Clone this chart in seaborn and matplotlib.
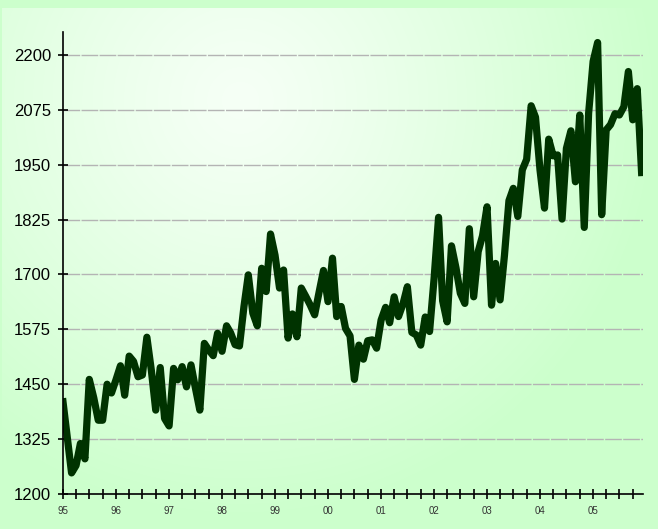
import seaborn as sns
import matplotlib.pyplot as plt
import matplotlib.dates as mdates
import pandas as pd
import numpy as np

# monthly values, Jan 1995 .. Dec 2005
months = pd.date_range('1995-01-01', periods=132, freq='MS')
values = [
    1410, 1325, 1248, 1265, 1315, 1280, 1461, 1419, 1368, 1368, 1450, 1430,
    1460, 1492, 1425, 1514, 1502, 1467, 1471, 1557, 1481, 1391, 1488, 1372,
    1355, 1486, 1460, 1490, 1444, 1494, 1442, 1391, 1543, 1528, 1515, 1566,
    1525, 1583, 1567, 1540, 1537, 1627, 1699, 1612, 1583, 1714, 1661, 1792,
    1744, 1669, 1710, 1555, 1610, 1558, 1669, 1650, 1630, 1608, 1660, 1709,
    1638, 1737, 1604, 1627, 1577, 1560, 1461, 1539, 1507, 1549, 1551, 1532,
    1596, 1625, 1590, 1649, 1604, 1633, 1672, 1568, 1562, 1539, 1603, 1570,
    1690, 1830, 1640, 1592, 1765, 1715, 1657, 1634, 1804, 1649, 1752, 1788,
    1854, 1630, 1725, 1642, 1743, 1868, 1896, 1832, 1938, 1962, 2084, 2058,
    1938, 1851, 2008, 1970, 1972, 1826, 1987, 2027, 1911, 2063, 1807, 2067,
    2185, 2228, 1836, 2029, 2041, 2066, 2063, 2082, 2162, 2052, 2123, 1932,
]
yticks = [1200, 1325, 1450, 1575, 1700, 1825, 1950, 2075, 2200]

df = pd.DataFrame({'month': months, 'value': values})

W, H = 658, 529
fig = plt.figure(figsize=(W / 100, H / 100), dpi=100, facecolor='#CCFFCC')

# gradient panel behind the chart
bg = fig.add_axes([2 / W, 0, 1 - 2 / W, 1 - 8 / H], zorder=-1)
gx, gy = np.meshgrid(np.arange(W - 2) + 2, np.arange(H - 8) + 8)
d = np.sqrt((gx - 240) ** 2 + (gy - 100) ** 2)
t = np.clip(d / 420, 0, 1) ** 1.2
c0 = np.array([246, 255, 246]) / 255
c1 = np.array([204, 255, 204]) / 255
img = c0[None, None, :] * (1 - t[..., None]) + c1[None, None, :] * t[..., None]
bg.imshow(img, aspect='auto', extent=[0, 1, 0, 1])
bg.axis('off')

ax = fig.add_axes([63 / W, 35 / H, 580 / W, 462 / H])
ax.set_facecolor('none')

sns.lineplot(data=df, x='month', y='value', ax=ax, color='#003300', lw=5.2)

ax.set_ylim(1200, 2252)
ax.set_yticks(yticks)
ax.set_xlim(months[0], months[0] + pd.Timedelta(days=131.3 * 30.44))

ax.xaxis.set_major_locator(mdates.YearLocator())
ax.xaxis.set_major_formatter(mdates.DateFormatter('%y'))
ax.xaxis.set_minor_locator(mdates.MonthLocator(bymonth=[4, 7, 10]))

ax.yaxis.grid(True, color='#b4b4b4', lw=1, ls=(0, (12, 1)))
ax.set_axisbelow(True)

for s in ['top', 'right']:
    ax.spines[s].set_visible(False)
for s in ['left', 'bottom']:
    ax.spines[s].set_linewidth(1.2)
    ax.spines[s].set_color('black')

ax.tick_params(axis='y', which='major', direction='inout', length=7, width=1.2,
               pad=5, labelsize=12, labelcolor='black')
ax.tick_params(axis='x', which='both', direction='inout', length=7, width=1.2,
               pad=5, labelsize=7, labelcolor='#333333')
for lab in ax.get_xticklabels() + ax.get_yticklabels():
    lab.set_family('Liberation Sans')

ax.set_xlabel('')
ax.set_ylabel('')

fig.savefig('out.png', dpi=100, facecolor=fig.get_facecolor())
